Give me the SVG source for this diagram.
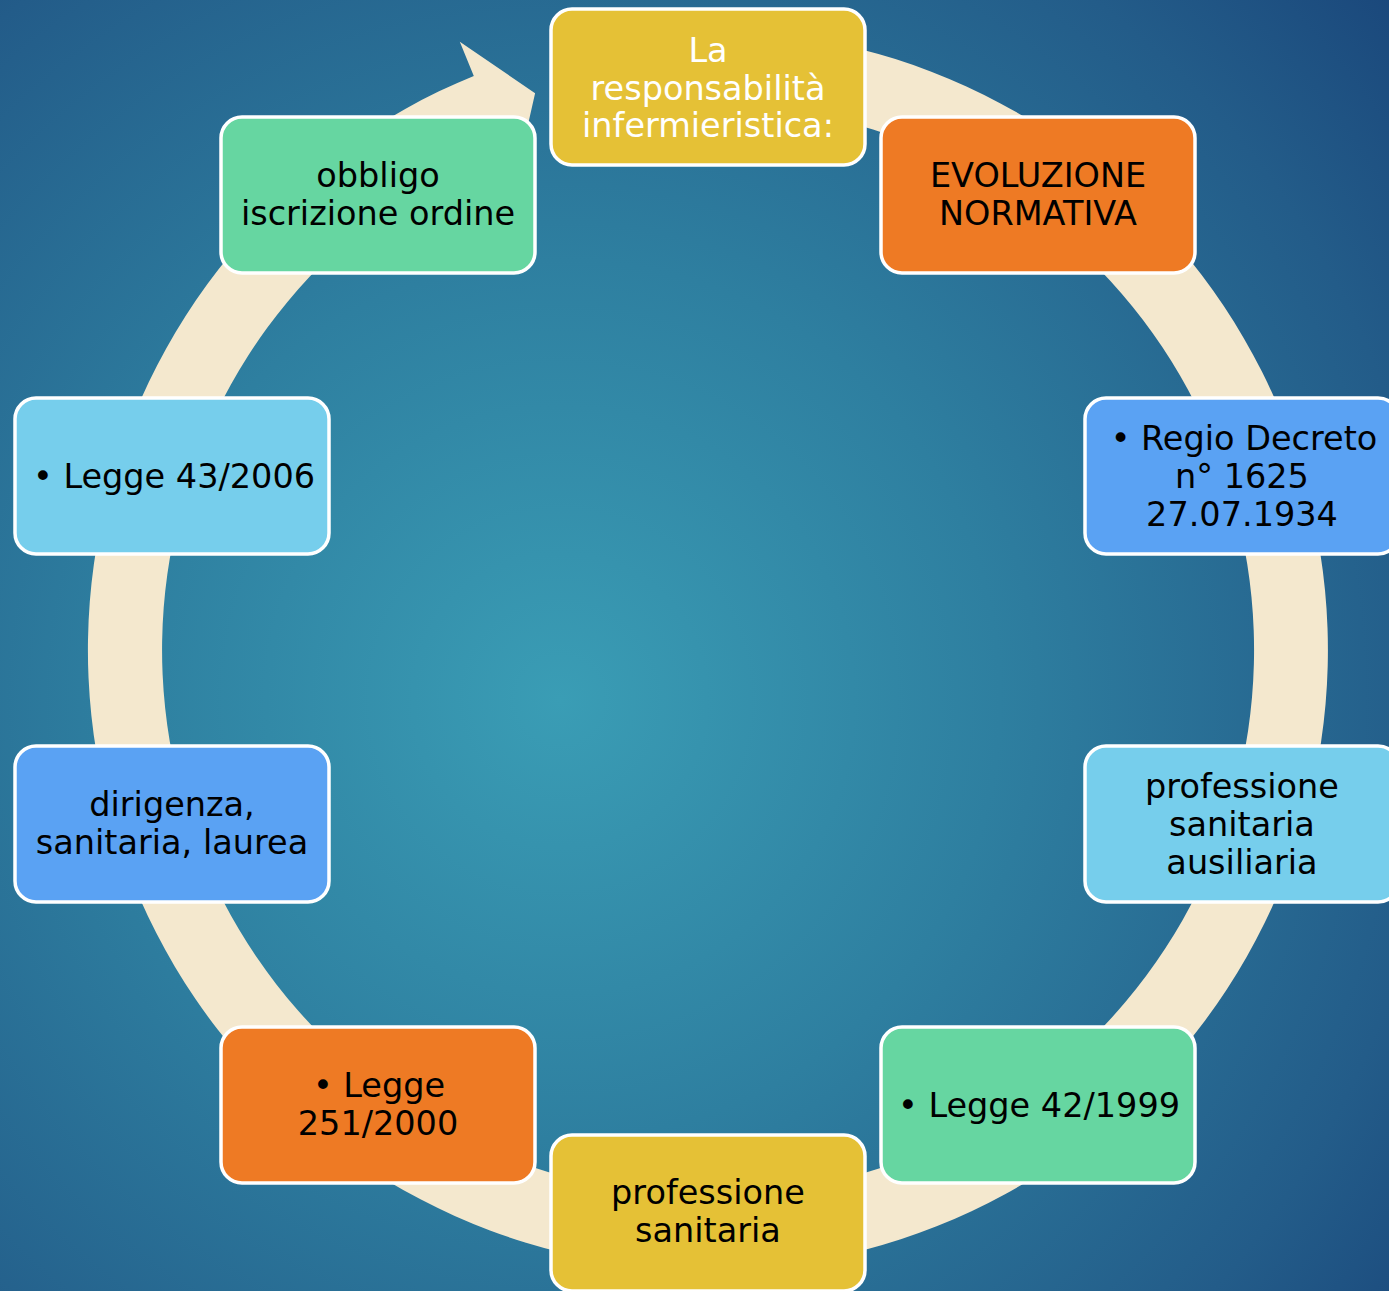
<svg xmlns="http://www.w3.org/2000/svg" width="1389" height="1291" viewBox="0 0 1389 1291">
  <defs>
    <radialGradient id="bg" cx="560" cy="700" r="1100" gradientUnits="userSpaceOnUse">
      <stop offset="0" stop-color="#3A9DB5"/>
      <stop offset="0.4" stop-color="#2E7FA0"/>
      <stop offset="0.8" stop-color="#235C89"/>
      <stop offset="1" stop-color="#1A477B"/>
    </radialGradient>
    <style>
      .box { stroke: #FFFFFF; stroke-width: 3.5; }
      .yellow { fill: #E5C136; }
      .orange { fill: #EE7A24; }
      .blue { fill: #5AA2F3; }
      .lblue { fill: #76CEEC; }
      .green { fill: #66D6A1; }
      .t { font-family: "DejaVu Sans", "Liberation Sans", sans-serif; font-size: 33.5px; text-anchor: middle; fill: #000000; }
      .w { fill: #FFFFFF; }
      .ring { fill: #F4E8CE; }
    </style>
  </defs>
  <rect x="0" y="0" width="1389" height="1291" fill="url(#bg)"/>

  <g id="connectors">
    <path class="ring" d="M 708 30 A 620 620 0 1 1 473.8 75.9 L 459.8 41.7 L 535.1 93.2 L 515.7 178.7 L 501.7 144.5 A 546 546 0 1 0 708 104 Z"/>
  </g>

  <g id="node-top">
    <rect class="box yellow" x="551" y="9" width="314" height="156" rx="21"/>
    <text class="t w" x="708" y="62">La</text>
    <text class="t w" x="708" y="100">responsabilità</text>
    <text class="t w" x="708" y="137">infermieristica:</text>
  </g>

  <g id="node-evoluzione">
    <rect class="box orange" x="881" y="117" width="314" height="156" rx="21"/>
    <text class="t" x="1038" y="187">EVOLUZIONE</text>
    <text class="t" x="1038" y="225">NORMATIVA</text>
  </g>

  <g id="node-regio">
    <rect class="box blue" x="1085" y="398" width="314" height="156" rx="21"/>
    <text class="t" x="1244" y="450">• Regio Decreto</text>
    <text class="t" x="1242" y="488">n° 1625</text>
    <text class="t" x="1242" y="526">27.07.1934</text>
  </g>

  <g id="node-ausiliaria">
    <rect class="box lblue" x="1085" y="746" width="314" height="156" rx="21"/>
    <text class="t" x="1242" y="798">professione</text>
    <text class="t" x="1242" y="836">sanitaria</text>
    <text class="t" x="1242" y="874">ausiliaria</text>
  </g>

  <g id="node-legge42">
    <rect class="box green" x="881" y="1027" width="314" height="156" rx="21"/>
    <text class="t" x="1039" y="1117">• Legge 42/1999</text>
  </g>

  <g id="node-sanitaria">
    <rect class="box yellow" x="551" y="1135" width="314" height="156" rx="21"/>
    <text class="t" x="708" y="1204">professione</text>
    <text class="t" x="708" y="1242">sanitaria</text>
  </g>

  <g id="node-legge251">
    <rect class="box orange" x="221" y="1027" width="314" height="156" rx="21"/>
    <text class="t" x="379" y="1097">• Legge</text>
    <text class="t" x="378" y="1135">251/2000</text>
  </g>

  <g id="node-dirigenza">
    <rect class="box blue" x="15" y="746" width="314" height="156" rx="21"/>
    <text class="t" x="172" y="816">dirigenza,</text>
    <text class="t" x="172" y="854">sanitaria, laurea</text>
  </g>

  <g id="node-legge43">
    <rect class="box lblue" x="15" y="398" width="314" height="156" rx="21"/>
    <text class="t" x="174" y="488">• Legge 43/2006</text>
  </g>

  <g id="node-obbligo">
    <rect class="box green" x="221" y="117" width="314" height="156" rx="21"/>
    <text class="t" x="378" y="187">obbligo</text>
    <text class="t" x="378" y="225">iscrizione ordine</text>
  </g>
</svg>
